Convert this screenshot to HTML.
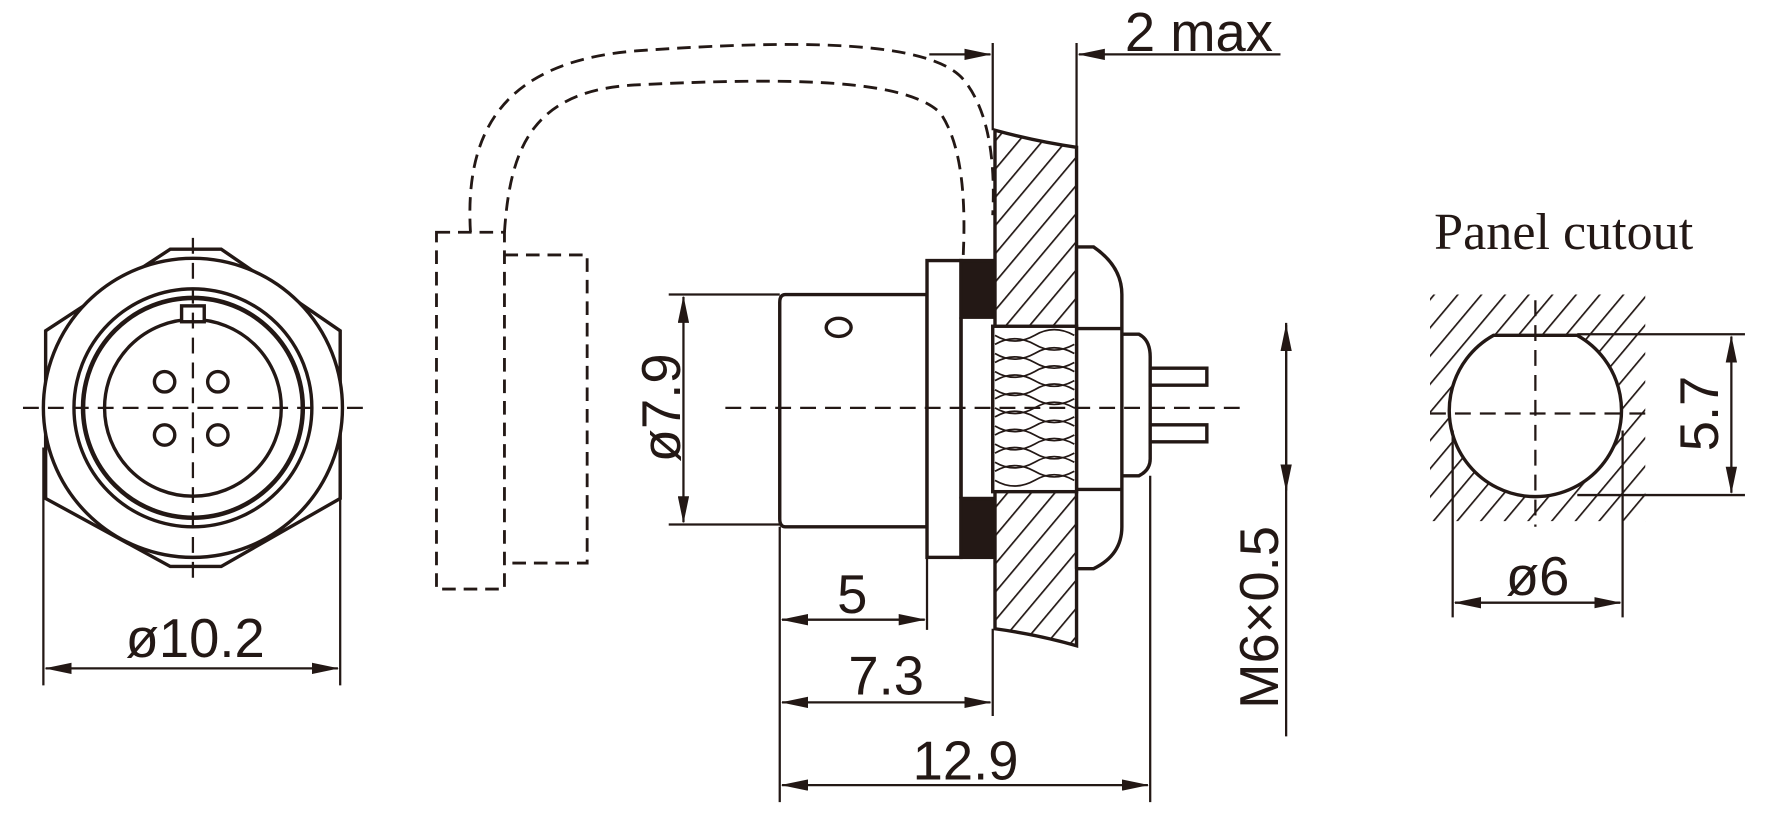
<!DOCTYPE html>
<html><head><meta charset="utf-8"><style>
html,body{margin:0;padding:0;background:#fff;}
svg{display:block;}
text{font-family:"Liberation Sans",sans-serif;fill:#231815;}
</style></head><body>
<svg width="1777" height="827" viewBox="0 0 1568 730" xmlns="http://www.w3.org/2000/svg">
<defs>
<pattern id="h" width="16" height="16" patternUnits="userSpaceOnUse" patternTransform="rotate(40)">
<line x1="0" y1="0" x2="0" y2="16" stroke="#231815" stroke-width="3"/></pattern>
<marker id="a" markerWidth="24" markerHeight="10" refX="23" refY="5" orient="auto" markerUnits="userSpaceOnUse">
<path d="M0,0 L24,5 L0,10 z" fill="#231815"/></marker>
<marker id="b" markerWidth="24" markerHeight="10" refX="1" refY="5" orient="auto" markerUnits="userSpaceOnUse">
<path d="M24,0 L0,5 L24,10 z" fill="#231815"/></marker>
</defs>
<rect width="1568" height="730" fill="#fff"/>
<g stroke="#231815" fill="none" stroke-width="3">
<!-- left face view -->
<path d="M40,292 L150,220 L195,220 L300,292 L300,440 L195,500 L150,500 L40,440 Z" fill="#fff"/>
<circle cx="170" cy="360" r="132" fill="#fff"/>
<circle cx="170" cy="360" r="105"/>
<circle cx="170" cy="360" r="97" stroke-width="4"/>
<circle cx="170" cy="360" r="78"/>
<rect x="160" y="270" width="20" height="14" fill="#fff"/>
<circle cx="145" cy="337" r="9"/><circle cx="192" cy="337" r="9"/>
<circle cx="145" cy="384" r="9"/><circle cx="192" cy="384" r="9"/>
<g stroke-dasharray="14,8" stroke-width="2"><line x1="20" y1="360" x2="320" y2="360"/><line x1="170" y1="210" x2="170" y2="510"/></g>
<g stroke-width="2"><line x1="38" y1="395" x2="38" y2="605"/><line x1="300" y1="395" x2="300" y2="605"/>
<line x1="40" y1="590" x2="298" y2="590" marker-start="url(#b)" marker-end="url(#a)"/></g>

<!-- dashed cable cap -->
<g stroke-dasharray="12,7" stroke-width="2.5">
<path d="M385,205 L445,205 L445,520 L385,520 Z"/>
<path d="M445,225 L518,225 L518,497 L445,497"/>
<path d="M415,205 C410,120 440,55 560,45 C700,35 820,35 850,70 C875,100 878,150 876,190"/>
<path d="M445,205 C450,130 470,80 560,75 C700,68 800,70 830,100 C850,130 852,180 850,225"/>
</g>

<!-- connector body -->
<path d="M693,260 L818,260 L818,465 L693,465 Q688,465 688,458 L688,267 Q688,260 693,260 Z" fill="#fff"/>
<ellipse cx="740" cy="289" rx="11" ry="8"/>
<rect x="818" y="230" width="30" height="262" fill="#fff"/>
<rect x="848" y="230" width="28" height="50" fill="#231815"/>
<rect x="848" y="440" width="28" height="52" fill="#231815"/>
<line x1="848" y1="280" x2="848" y2="440"/>
<!-- panel -->
<path d="M878,115 Q915,125 950,130 L950,570 Q915,560 878,555 Z" fill="url(#h)"/>
<!-- nut (right part) -->
<path d="M950,218 L965,218 Q990,235 990,260 L990,465 Q990,490 965,502 L950,502" fill="#fff"/>
<line x1="950" y1="218" x2="950" y2="502"/>
<line x1="950" y1="290" x2="990" y2="290"/><line x1="950" y1="432" x2="990" y2="432"/>
<rect x="876" y="288" width="74" height="146" fill="#fff"/>
<g stroke-width="1.5">
<path d="M878,296 Q895,306 913,296 Q930,286 948,296 M878,312 Q895,322 913,312 Q930,302 948,312 M878,328 Q895,338 913,328 Q930,318 948,328 M878,344 Q895,354 913,344 Q930,334 948,344 M878,360 Q895,370 913,360 Q930,350 948,360 M878,376 Q895,386 913,376 Q930,366 948,376 M878,392 Q895,402 913,392 Q930,382 948,392 M878,408 Q895,418 913,408 Q930,398 948,408 M878,424 Q895,434 913,424 Q930,414 948,424"/>
<path d="M878,304 Q895,294 913,304 Q930,314 948,304 M878,320 Q895,310 913,320 Q930,330 948,320 M878,336 Q895,326 913,336 Q930,346 948,336 M878,352 Q895,342 913,352 Q930,362 948,352 M878,368 Q895,358 913,368 Q930,378 948,368 M878,384 Q895,374 913,384 Q930,394 948,384 M878,400 Q895,390 913,400 Q930,410 948,400 M878,416 Q895,406 913,416 Q930,426 948,416"/>
</g>
<path d="M990,295 L1005,295 Q1015,300 1015,315 L1015,405 Q1015,415 1005,420 L990,420"/>
<rect x="1015" y="325" width="50" height="15" fill="#fff"/>
<rect x="1015" y="375" width="50" height="15" fill="#fff"/>
<line x1="640" y1="360" x2="1100" y2="360" stroke-dasharray="14,8" stroke-width="2"/>

<!-- dims -->
<g stroke-width="2">
<line x1="876" y1="38" x2="876" y2="115"/><line x1="950" y1="38" x2="950" y2="130"/>
<line x1="820" y1="48" x2="874" y2="48" marker-end="url(#a)"/>
<line x1="1130" y1="48" x2="952" y2="48" marker-end="url(#a)"/>
<line x1="590" y1="260" x2="688" y2="260"/><line x1="590" y1="463" x2="688" y2="463"/>
<line x1="603" y1="262" x2="603" y2="461" marker-start="url(#b)" marker-end="url(#a)"/>
<line x1="688" y1="465" x2="688" y2="708"/><line x1="818" y1="492" x2="818" y2="556"/>
<line x1="876" y1="555" x2="876" y2="632"/><line x1="1015" y1="420" x2="1015" y2="708"/>
<line x1="690" y1="547" x2="816" y2="547" marker-start="url(#b)" marker-end="url(#a)"/>
<line x1="690" y1="620" x2="874" y2="620" marker-start="url(#b)" marker-end="url(#a)"/>
<line x1="690" y1="693" x2="1013" y2="693" marker-start="url(#b)" marker-end="url(#a)"/>
<line x1="1135" y1="285" x2="1135" y2="650"/>
<line x1="1135" y1="287" x2="1135" y2="433" marker-start="url(#b)" marker-end="url(#a)"/>
</g>

<!-- panel cutout -->
<path d="M1262,260 L1452,260 L1452,460 L1262,460 Z" fill="url(#h)" stroke="none"/>
<path d="M1318,296 L1392,296 A76,76 0 1 1 1318,296 Z" fill="#fff" stroke-width="3"/>
<g stroke-dasharray="14,8" stroke-width="2"><line x1="1262" y1="365" x2="1460" y2="365"/><line x1="1355" y1="265" x2="1355" y2="465"/></g>
<g stroke-width="2">
<line x1="1392" y1="295" x2="1540" y2="295"/><line x1="1392" y1="437" x2="1540" y2="437"/>
<line x1="1528" y1="297" x2="1528" y2="435" marker-start="url(#b)" marker-end="url(#a)"/>
<line x1="1282" y1="380" x2="1282" y2="545"/><line x1="1432" y1="380" x2="1432" y2="545"/>
<line x1="1284" y1="532" x2="1430" y2="532" marker-start="url(#b)" marker-end="url(#a)"/>
</g>
</g>
<g font-size="48">
<text x="172" y="580" text-anchor="middle">ø10.2</text>
<text x="1058" y="45" text-anchor="middle">2 max</text>
<text x="752" y="541" text-anchor="middle">5</text>
<text x="782" y="613" text-anchor="middle">7.3</text>
<text x="852" y="688" text-anchor="middle">12.9</text>
<text transform="translate(600,360) rotate(-90)" text-anchor="middle">ø7.9</text>
<text transform="translate(1128,545) rotate(-90)" text-anchor="middle">M6×0.5</text>
<text transform="translate(1516,365) rotate(-90)" text-anchor="middle">5.7</text>
<text x="1357" y="525" text-anchor="middle">ø6</text>
<text x="1380" y="220" text-anchor="middle" font-size="46" style="font-family:'Liberation Serif',serif">Panel cutout</text>
</g>
</svg>
</body></html>
